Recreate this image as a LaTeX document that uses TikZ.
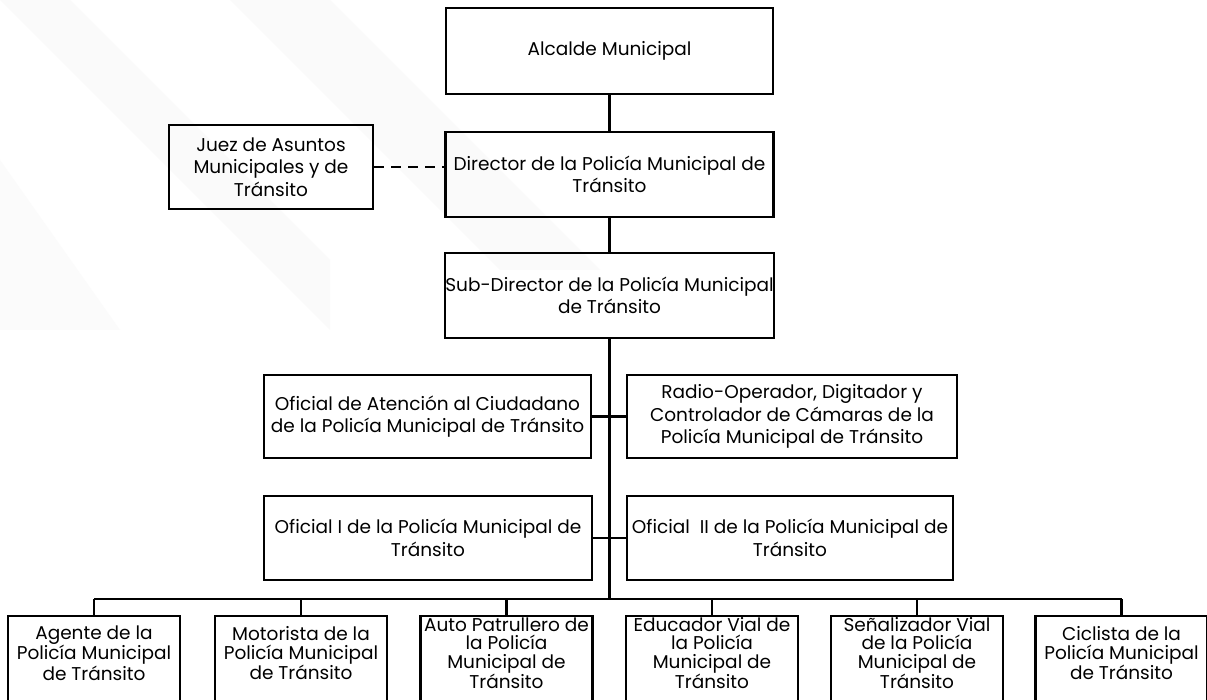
\documentclass[tikz,border=0pt]{standalone}
\usepackage{fontspec}
\setmainfont{Poppins}
\usetikzlibrary{calc}
\begin{document}
\begin{tikzpicture}[x=1pt,y=-1pt,
  box/.style={draw, line width=2.3pt, align=center, inner sep=0pt,
    font=\fontsize{18.5}{22.5}\selectfont},
  lowbox/.style={draw, line width=2.3pt, anchor=north, minimum width=172pt,
    minimum height=110pt, inner sep=0pt},
  lowtext/.style={align=center, inner sep=0pt, font=\fontsize{18.5}{18.5}\selectfont},
  link/.style={line width=2.3pt},
  dashlink/.style={line width=2.3pt, dash pattern=on 10pt off 7pt}]

% page and faint diagonal shading
\useasboundingbox (0,0) rectangle (1207,700);
\clip (0,0) rectangle (1207,700);
\fill[white] (0,0) rectangle (1207,700);
\fill[black!2] (0,0) -- (70,0) -- (330,260) -- (330,330) -- (0,0);
\fill[black!2] (230,0) -- (330,0) -- (600,270) -- (500,270) -- cycle;
\fill[black!1.5] (0,160) -- (0,330) -- (120,330) -- cycle;

% upper chain
\node[box, minimum width=327pt, minimum height=86pt] (alcalde) at (609.5,51) {Alcalde Municipal};
\node[box, minimum width=328pt, minimum height=85pt] (director) at (609.5,174.5)
  {Director de la Policía Municipal de\\Tránsito};
\node[box, minimum width=204pt, minimum height=84pt] (juez) at (271,167)
  {Juez de Asuntos\\Municipales y de\\Tránsito};
\node[box, minimum width=327pt, minimum height=85pt] (sub) at (609.5,295.5)
  {Sub-Director de la Policía Municipal\\de Tránsito};

% staff rows
\node[box, minimum width=327pt, minimum height=83pt] (atencion) at (427.5,416.5)
  {Oficial de Atención al Ciudadano\\de la Policía Municipal de Tránsito};
\node[box, minimum width=330pt, minimum height=83pt] (radio) at (792,416.5)
  {Radio-Operador, Digitador y\\Controlador de Cámaras de la\\Policía Municipal de Tránsito};
\node[box, minimum width=328pt, minimum height=84pt] (oficialI) at (428,538)
  {Oficial I de la Policía Municipal de\\Tránsito};
\node[box, minimum width=326pt, minimum height=84pt] (oficialII) at (790,538)
  {Oficial\ \ II de la Policía Municipal de\\Tránsito};

% bottom row
\node[lowbox] (agente) at (94,615) {};
\node[lowbox] (motorista) at (301,615) {};
\node[lowbox] (auto) at (506.5,615) {};
\node[lowbox] (educador) at (712,615) {};
\node[lowbox] (senal) at (917,615) {};
\node[lowbox] (ciclista) at (1121.5,615) {};

\node[lowtext] (tagente) at ($(agente.north)+(0,38)$) {Agente de la\\Policía Municipal\\de Tránsito};
\node[lowtext] (tmotorista) at ($(motorista.north)+(0,38)$) {Motorista de la\\Policía Municipal\\de Tránsito};
\node[lowtext] (tauto) at ($(auto.north)+(0,38)$) {Auto Patrullero de\\la Policía\\Municipal de\\Tránsito};
\node[lowtext] (teducador) at ($(educador.north)+(0,38)$) {Educador Vial de\\la Policía\\Municipal de\\Tránsito};
\node[lowtext] (tsenal) at ($(senal.north)+(0,38)$) {Señalizador Vial\\de la Policía\\Municipal de\\Tránsito};
\node[lowtext] (tciclista) at ($(ciclista.north)+(0,38)$) {Ciclista de la\\Policía Municipal\\de Tránsito};

% connectors
\coordinate (hub) at (609.5,599);
\draw[link] (alcalde.south) -- (director.north);
\draw[link] (director.south) -- (sub.north);
\draw[link] (sub.south) -- (hub);
\draw[dashlink] (juez.east) -- (juez.east -| director.west);
\draw[link] (atencion.east) -- (radio.west);
\draw[link] (oficialI.east) -- (oficialII.west);
\draw[link] (agente.north |- hub) -- (ciclista.north |- hub);
\foreach \n in {agente,motorista,auto,educador,senal,ciclista}
  \draw[link] (\n.north) -- (\n.north |- hub);
\end{tikzpicture}
\end{document}
